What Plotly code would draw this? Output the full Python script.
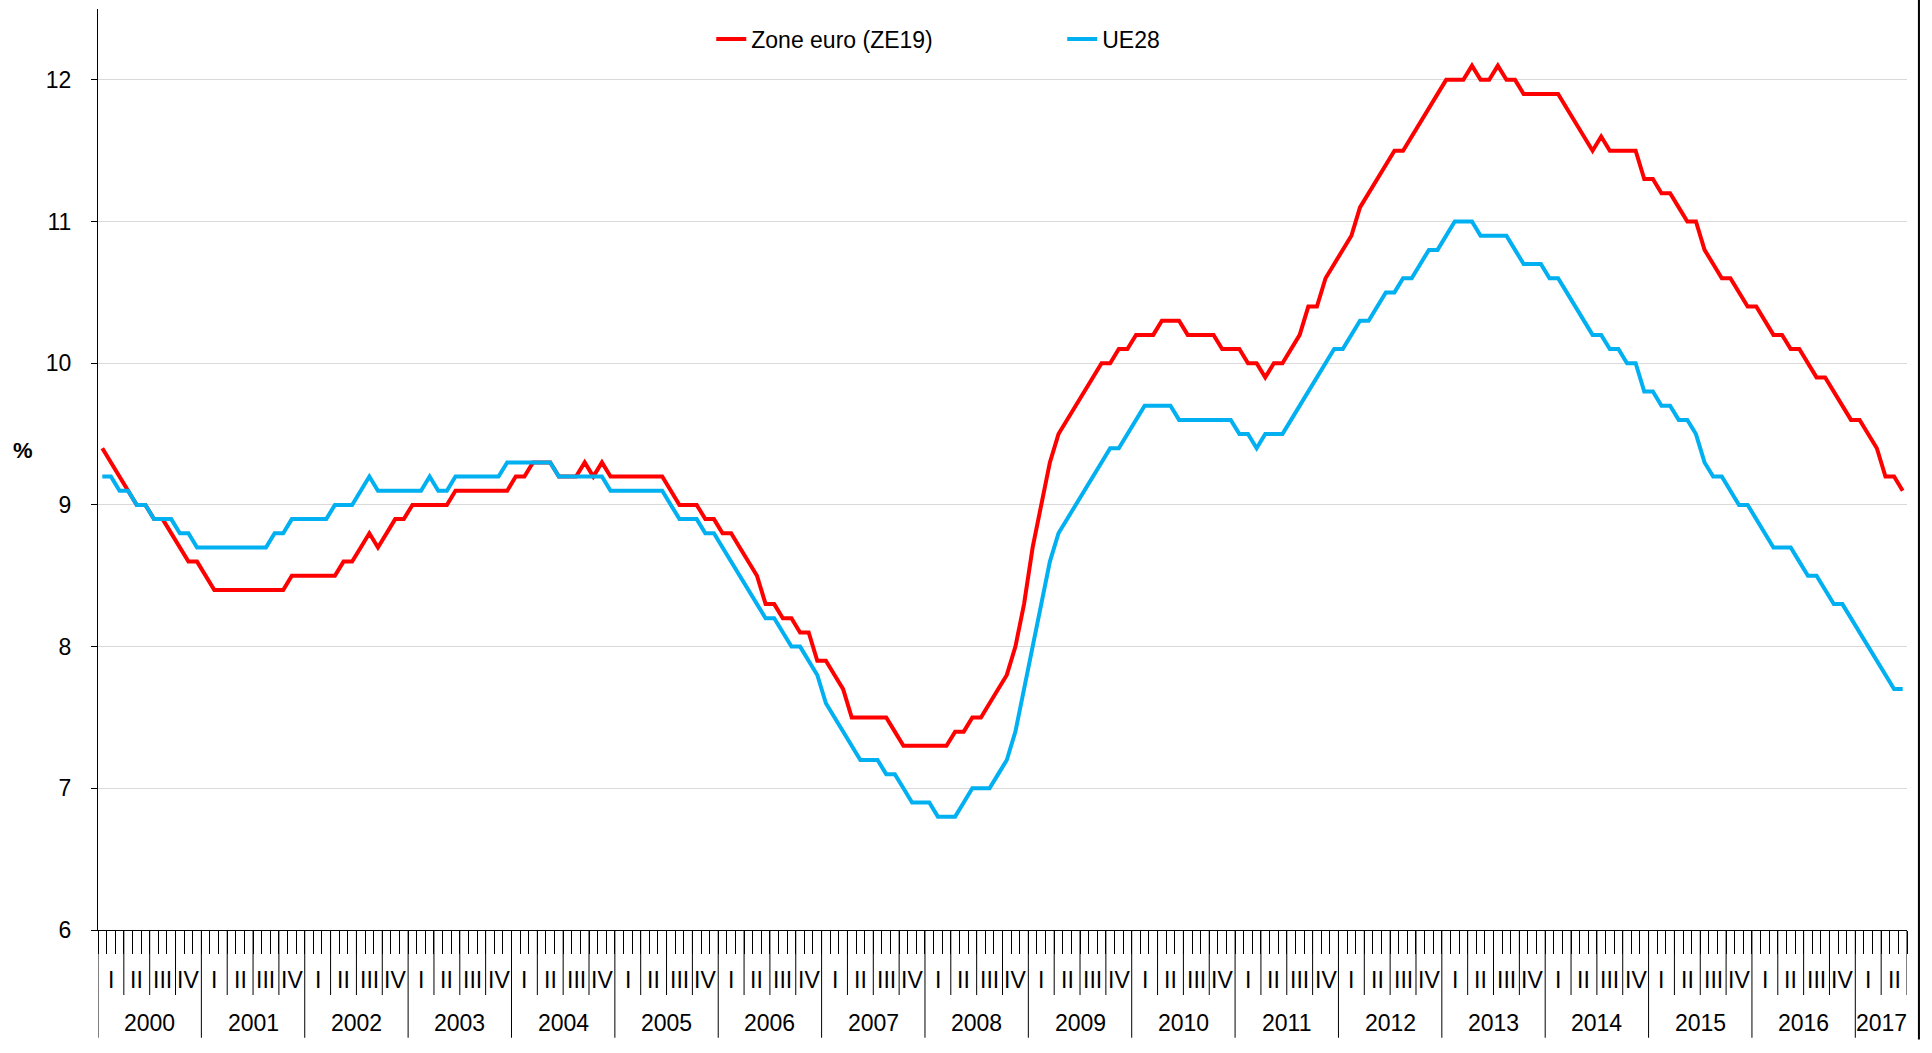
import plotly.graph_objects as go

# ---------------- data (monthly, Jan 2000 - Jun 2017) ----------------
years = [str(y) for y in range(2000, 2018)]
quarter_labels = ["I", "II", "III", "IV"]

ze19 = [
    9.4, 9.3, 9.2, 9.1, 9.0, 9.0, 8.9, 8.9, 8.8, 8.7, 8.6, 8.6,          # 2000
    8.5, 8.4, 8.4, 8.4, 8.4, 8.4, 8.4, 8.4, 8.4, 8.4, 8.5, 8.5,          # 2001
    8.5, 8.5, 8.5, 8.5, 8.6, 8.6, 8.7, 8.8, 8.7, 8.8, 8.9, 8.9,          # 2002
    9.0, 9.0, 9.0, 9.0, 9.0, 9.1, 9.1, 9.1, 9.1, 9.1, 9.1, 9.1,          # 2003
    9.2, 9.2, 9.3, 9.3, 9.3, 9.2, 9.2, 9.2, 9.3, 9.2, 9.3, 9.2,          # 2004
    9.2, 9.2, 9.2, 9.2, 9.2, 9.2, 9.1, 9.0, 9.0, 9.0, 8.9, 8.9,          # 2005
    8.8, 8.8, 8.7, 8.6, 8.5, 8.3, 8.3, 8.2, 8.2, 8.1, 8.1, 7.9,          # 2006
    7.9, 7.8, 7.7, 7.5, 7.5, 7.5, 7.5, 7.5, 7.4, 7.3, 7.3, 7.3,          # 2007
    7.3, 7.3, 7.3, 7.4, 7.4, 7.5, 7.5, 7.6, 7.7, 7.8, 8.0, 8.3,          # 2008
    8.7, 9.0, 9.3, 9.5, 9.6, 9.7, 9.8, 9.9, 10.0, 10.0, 10.1, 10.1,      # 2009
    10.2, 10.2, 10.2, 10.3, 10.3, 10.3, 10.2, 10.2, 10.2, 10.2, 10.1, 10.1,  # 2010
    10.1, 10.0, 10.0, 9.9, 10.0, 10.0, 10.1, 10.2, 10.4, 10.4, 10.6, 10.7,   # 2011
    10.8, 10.9, 11.1, 11.2, 11.3, 11.4, 11.5, 11.5, 11.6, 11.7, 11.8, 11.9,  # 2012
    12.0, 12.0, 12.0, 12.1, 12.0, 12.0, 12.1, 12.0, 12.0, 11.9, 11.9, 11.9,  # 2013
    11.9, 11.9, 11.8, 11.7, 11.6, 11.5, 11.6, 11.5, 11.5, 11.5, 11.5, 11.3,  # 2014
    11.3, 11.2, 11.2, 11.1, 11.0, 11.0, 10.8, 10.7, 10.6, 10.6, 10.5, 10.4,  # 2015
    10.4, 10.3, 10.2, 10.2, 10.1, 10.1, 10.0, 9.9, 9.9, 9.8, 9.7, 9.6,       # 2016
    9.6, 9.5, 9.4, 9.2, 9.2, 9.1,                                          # 2017
]

ue28 = [
    9.2, 9.2, 9.1, 9.1, 9.0, 9.0, 8.9, 8.9, 8.9, 8.8, 8.8, 8.7,          # 2000
    8.7, 8.7, 8.7, 8.7, 8.7, 8.7, 8.7, 8.7, 8.8, 8.8, 8.9, 8.9,          # 2001
    8.9, 8.9, 8.9, 9.0, 9.0, 9.0, 9.1, 9.2, 9.1, 9.1, 9.1, 9.1,          # 2002
    9.1, 9.1, 9.2, 9.1, 9.1, 9.2, 9.2, 9.2, 9.2, 9.2, 9.2, 9.3,          # 2003
    9.3, 9.3, 9.3, 9.3, 9.3, 9.2, 9.2, 9.2, 9.2, 9.2, 9.2, 9.1,          # 2004
    9.1, 9.1, 9.1, 9.1, 9.1, 9.1, 9.0, 8.9, 8.9, 8.9, 8.8, 8.8,          # 2005
    8.7, 8.6, 8.5, 8.4, 8.3, 8.2, 8.2, 8.1, 8.0, 8.0, 7.9, 7.8,          # 2006
    7.6, 7.5, 7.4, 7.3, 7.2, 7.2, 7.2, 7.1, 7.1, 7.0, 6.9, 6.9,          # 2007
    6.9, 6.8, 6.8, 6.8, 6.9, 7.0, 7.0, 7.0, 7.1, 7.2, 7.4, 7.7,          # 2008
    8.0, 8.3, 8.6, 8.8, 8.9, 9.0, 9.1, 9.2, 9.3, 9.4, 9.4, 9.5,          # 2009
    9.6, 9.7, 9.7, 9.7, 9.7, 9.6, 9.6, 9.6, 9.6, 9.6, 9.6, 9.6,          # 2010
    9.5, 9.5, 9.4, 9.5, 9.5, 9.5, 9.6, 9.7, 9.8, 9.9, 10.0, 10.1,        # 2011
    10.1, 10.2, 10.3, 10.3, 10.4, 10.5, 10.5, 10.6, 10.6, 10.7, 10.8, 10.8,  # 2012
    10.9, 11.0, 11.0, 11.0, 10.9, 10.9, 10.9, 10.9, 10.8, 10.7, 10.7, 10.7,  # 2013
    10.6, 10.6, 10.5, 10.4, 10.3, 10.2, 10.2, 10.1, 10.1, 10.0, 10.0, 9.8,   # 2014
    9.8, 9.7, 9.7, 9.6, 9.6, 9.5, 9.3, 9.2, 9.2, 9.1, 9.0, 9.0,              # 2015
    8.9, 8.8, 8.7, 8.7, 8.7, 8.6, 8.5, 8.5, 8.4, 8.3, 8.3, 8.2,              # 2016
    8.1, 8.0, 7.9, 7.8, 7.7, 7.7,                                            # 2017
]

n_months = len(ze19)
x_mid = [i + 0.5 for i in range(n_months)]   # each month drawn in the middle of its category

FONT = "Liberation Sans, Arial, sans-serif"
RED = "#FF0000"
BLUE = "#00B0F0"

fig = go.Figure()
fig.add_trace(go.Scatter(x=x_mid, y=ze19, mode="lines", name="Zone euro (ZE19)",
                         line=dict(color=RED, width=4), legend="legend", showlegend=True))
fig.add_trace(go.Scatter(x=x_mid, y=ue28, mode="lines", name="UE28",
                         line=dict(color=BLUE, width=4), legend="legend2", showlegend=True))

# ---------- category axis: month ticks, quarter and year separators ----------
Q_DROP = -0.0706   # bottom of quarter separators (paper)
Y_DROP = -0.117    # bottom of year separators (paper)
shapes = []
for m in range(0, n_months + 1, 3):
    if m % 12 == 0 and m < n_months:
        y1 = Y_DROP
    else:
        y1 = Q_DROP
    shapes.append(dict(type="line", xref="x", yref="paper", x0=m, x1=m, y0=0, y1=y1,
                       line=dict(color="#000000", width=1)))
# right frame line
shapes.append(dict(type="line", xref="paper", yref="paper", x0=1.0066, x1=1.0066,
                   y0=-0.119, y1=1.01, line=dict(color="#000000", width=2)))

annotations = []
for yi, yr in enumerate(years):
    start = yi * 12
    end = min(start + 12, n_months)
    for q in range(4):
        qs = start + q * 3
        if qs >= n_months:
            break
        annotations.append(dict(text=quarter_labels[q], xref="x", yref="paper",
                                x=qs + 1.5, y=-0.0543, showarrow=False,
                                xanchor="center", yanchor="middle",
                                font=dict(family=FONT, size=23, color="#000")))
    annotations.append(dict(text=yr, xref="x", yref="paper", x=(start + end) / 2,
                            y=-0.101, showarrow=False, xanchor="center", yanchor="middle",
                            font=dict(family=FONT, size=23, color="#000")))
annotations.append(dict(text="<b>%</b>", xref="paper", yref="paper", x=-0.0415, y=0.521,
                        showarrow=False, xanchor="center", yanchor="middle",
                        font=dict(family=FONT, size=22, color="#000")))

fig.update_layout(
    width=1932, height=1053,
    showlegend=True,
    margin=dict(l=98, r=25, t=9, b=123),
    paper_bgcolor="white", plot_bgcolor="white",
    font=dict(family=FONT, size=23, color="#000"),
    xaxis=dict(range=[0, n_months], tickmode="array", tickvals=list(range(0, n_months + 1)),
               ticks="outside", ticklen=23, tickwidth=1, tickcolor="#000",
               showticklabels=False, showline=True, linecolor="#000", linewidth=1,
               showgrid=False, zeroline=False),
    yaxis=dict(range=[6, 12.5], tick0=6, dtick=1, ticks="outside", ticklen=6,
               tickcolor="#000", tickwidth=1, showline=True, linecolor="#000", linewidth=1,
               showgrid=True, gridcolor="#D9D9D9", gridwidth=1.3, zeroline=False,
               tickfont=dict(family=FONT, size=23, color="#000"), ticklabelstandoff=15),
    legend=dict(x=0.339, y=0.9674, xanchor="left", yanchor="middle", orientation="h",
                font=dict(family=FONT, size=23, color="#000"), bgcolor="rgba(0,0,0,0)",
                visible=True),
    legend2=dict(x=0.533, y=0.9674, xanchor="left", yanchor="middle", orientation="h",
                 font=dict(family=FONT, size=23, color="#000"), bgcolor="rgba(0,0,0,0)",
                 visible=True),
    shapes=shapes,
    annotations=annotations,
)

fig.write_html("out.html", config={"displayModeBar": False},
               post_script="document.body.style.margin='0';document.body.style.overflow='hidden';")
